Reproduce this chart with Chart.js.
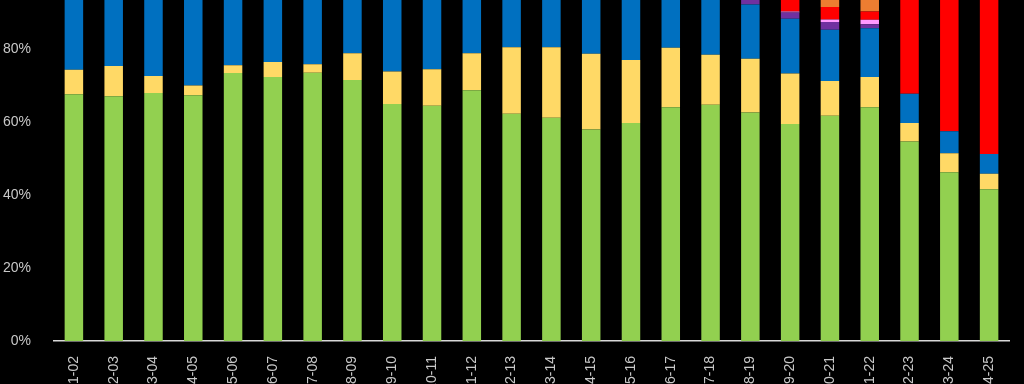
<!DOCTYPE html>
<html>
<head>
<meta charset="utf-8">
<script src="https://cdn.jsdelivr.net/npm/chart.js@4.4.1/dist/chart.umd.min.js"></script>
<style>
  html, body { margin: 0; padding: 0; background: #000; overflow: hidden; width: 1024px; height: 384px; }
  #wrap { position: absolute; left: 0; top: -47px; width: 1024px; height: 448px; }
</style>
</head>
<body>
<div id="wrap"><canvas id="myChart"></canvas></div>
<script>
// school years
var years = ['2001-02','2002-03','2003-04','2004-05','2005-06','2006-07','2007-08','2008-09',
  '2009-10','2010-11','2011-12','2012-13','2013-14','2014-15','2015-16','2016-17',
  '2017-18','2018-19','2019-20','2020-21','2021-22','2022-23','2023-24','2024-25'];

// shares in %, bottom to top of each stack
var green  = [67.7,67.1,68.0,67.4,73.5,72.4,73.6,71.6,65.0,64.5,68.8,62.3,61.2,58.0,59.8,64.1,64.8,62.7,59.5,61.8,64.1,54.7,46.3,41.6];
var yellow = [6.7,8.3,4.7,2.7,2.1,4.1,2.3,7.3,8.9,10.0,10.1,18.3,19.4,20.8,17.3,16.3,13.7,14.7,13.9,9.5,8.3,5.1,5.2,4.3];
var blue   = [25.6,24.6,27.3,29.9,24.4,23.5,24.1,21.1,26.1,25.5,21.1,19.4,19.4,21.2,22.9,19.6,21.5,14.9,15.0,14.1,13.4,8.0,6.0,5.4];
var purple = [0,0,0,0,0,0,0,0,0,0,0,0,0,0,0,0,0,7.7,1.7,2.1,1.1,0,0,0];
var pink   = [0,0,0,0,0,0,0,0,0,0,0,0,0,0,0,0,0,0,0.3,0.7,1.2,0,0,0];
var red    = [0,0,0,0,0,0,0,0,0,0,0,0,0,0,0,0,0,0,9.6,3.4,2.3,32.2,42.5,48.7];
var orange = [0,0,0,0,0,0,0,0,0,0,0,0,0,0,0,0,0,0,0,8.4,9.6,0,0,0];

var yTicks = [0, 20, 40, 60, 80, 100];

var txt = '#c8c8c8';

function serie(label, values, color) {
  return { label: label, data: values, backgroundColor: color, borderWidth: 0,
    barPercentage: 0.465, categoryPercentage: 1 };
}

const ctx = document.getElementById('myChart');
new Chart(ctx, {
  type: 'bar',
  data: {
    labels: years,
    datasets: [
      serie('A', green, '#92d050'),
      serie('B', yellow, '#ffd966'),
      serie('C', blue, '#0070c0'),
      serie('D', purple, '#7030a0'),
      serie('E', pink, '#ff99ff'),
      serie('F', red, '#ff0000'),
      serie('G', orange, '#ed7d31')
    ]
  },
  options: {
    responsive: true,
    maintainAspectRatio: false,
    animation: false,
    layout: { padding: { top: 20, right: 15, left: 0, bottom: 0 } },
    plugins: { legend: { display: false }, tooltip: { enabled: false } },
    scales: {
      x: {
        stacked: true,
        grid: { display: false },
        border: { display: true, color: '#d9d9d9', width: 1.5 },
        ticks: {
          color: txt, font: { family: 'Liberation Sans', size: 14 },
          minRotation: 90, maxRotation: 90, padding: 7, autoSkip: false
        },
        afterFit: function (scale) { scale.height = 60; }
      },
      y: {
        stacked: true,
        min: 0,
        max: 100,
        grid: { display: false },
        border: { display: false },
        afterBuildTicks: function (scale) {
          scale.ticks = yTicks.map(function (v) { return { value: v }; });
        },
        ticks: {
          color: txt, font: { family: 'Liberation Sans', size: 14 }, padding: 15,
          callback: function (v) { return v + '%'; }
        },
        afterFit: function (scale) { scale.width = 54; }
      }
    }
  }
});
</script>
</body>
</html>
